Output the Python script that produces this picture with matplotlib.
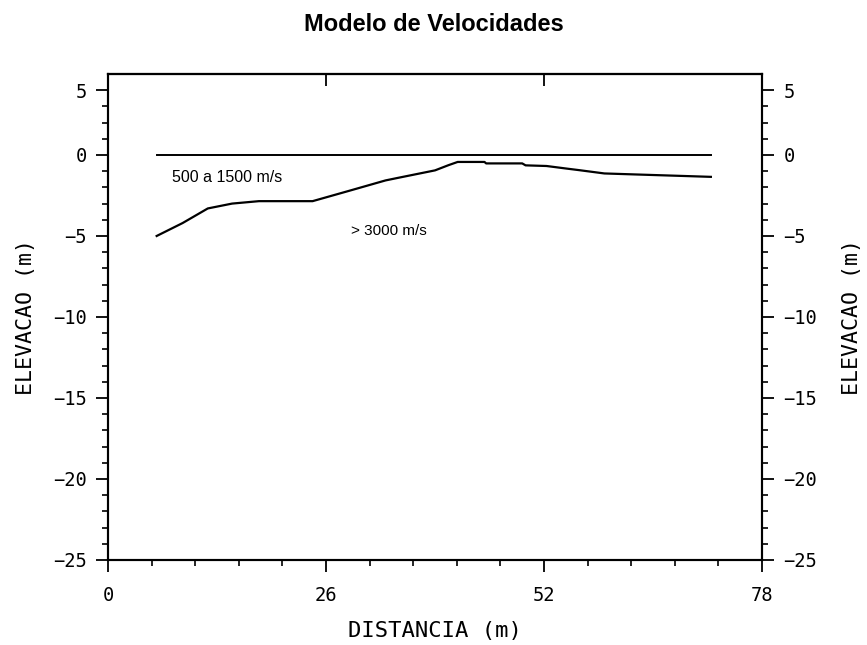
import matplotlib
matplotlib.use("Agg")
import matplotlib.pyplot as plt
import numpy as np

# superficie (topo) e refrator
topo_x = [5.8, 71.9]
topo_y = [0.0, 0.0]
refr_x = [5.8, 8.9, 11.9, 14.8, 18.0, 24.4, 28.7, 33.1, 34.7, 39.0, 40.6, 41.7,
          44.9, 45.1, 49.4, 49.8, 52.3, 54.7, 56.1, 59.2, 62.8, 68.9, 71.9]
refr_y = [-5.0, -4.2, -3.3, -3.0, -2.85, -2.85, -2.22, -1.57, -1.4, -0.95, -0.63, -0.43,
          -0.43, -0.52, -0.52, -0.64, -0.68, -0.84, -0.93, -1.14, -1.2, -1.3, -1.35]

camadas = ["500 a 1500 m/s", "> 3000 m/s"]
camadas_pos = [(7.6, -1.38), (29.0, -4.69)]

xticks = [0, 26, 52, 78]
yticks = [4, 0, -5, -10, -15, -20, -25]
ylabels = ["5", "0", "\u22125", "\u221210", "\u221215", "\u221220", "\u221225"]

mono = "DejaVu Sans Mono"

fig = plt.figure(figsize=(8.67, 6.45), dpi=100)
ax = fig.add_axes([0.1246, 0.1318, 0.7543, 0.7535])

ax.plot(topo_x, topo_y, color="black", lw=1.4)
ax.plot(refr_x, refr_y, color="black", lw=1.6)
for t, (px, py), fs in zip(camadas, camadas_pos, [11.5, 11]):
    ax.text(px, py, t, fontsize=fs, family="Liberation Sans", va="center", ha="left")

ax.set_xlim(0, 78)
ax.set_ylim(-25, 5)
ax.set_xticks(xticks)
ax.set_xticks(np.arange(0, 78.1, 5.2), minor=True)
ax.set_yticks(yticks)
ax.set_yticklabels(ylabels)
ax.set_yticks(np.arange(-25, 5, 1), minor=True)

for s in ax.spines.values():
    s.set_linewidth(1.5)

ax.tick_params(axis="both", which="major", direction="out", length=8.5, width=1.3,
               labelsize=13.5)
ax.tick_params(axis="both", which="minor", direction="out", length=4.3, width=1.2)
ax.tick_params(axis="y", pad=7)
ax.tick_params(axis="x", pad=10)
for lab in ax.get_xticklabels() + ax.get_yticklabels():
    lab.set_family(mono)

ax.set_xlabel("DISTANCIA (m)", family=mono, fontsize=16, labelpad=12)
ax.set_ylabel("ELEVACAO (m)", family=mono, fontsize=15.5, labelpad=12)

# eixo da direita
ax2 = ax.twinx()
ax2.set_ylim(-25, 5)
ax2.set_yticks(yticks)
ax2.set_yticklabels(ylabels)
ax2.set_yticks(np.arange(-25, 5, 1), minor=True)
ax2.tick_params(axis="y", which="major", direction="out", length=8.5, width=1.3,
                labelsize=13.5, pad=7)
ax2.tick_params(axis="y", which="minor", direction="out", length=4.3, width=1.2)
for lab in ax2.get_yticklabels():
    lab.set_family(mono)
ax2.set_ylabel("ELEVACAO (m)", family=mono, fontsize=15.5, labelpad=18)
for s in ax2.spines.values():
    s.set_linewidth(1.5)

# marcas internas no topo
top = ax.secondary_xaxis("top")
top.set_xticks([26, 52])
top.set_xticklabels([])
top.tick_params(direction="in", length=8.5, width=1.3)
top.spines["top"].set_linewidth(1.5)

fig.text(0.5, 0.962, "Modelo de Velocidades", ha="center", va="center", fontsize=17,
         fontweight="bold", family="Liberation Sans")

fig.savefig("out.png", dpi=100)
